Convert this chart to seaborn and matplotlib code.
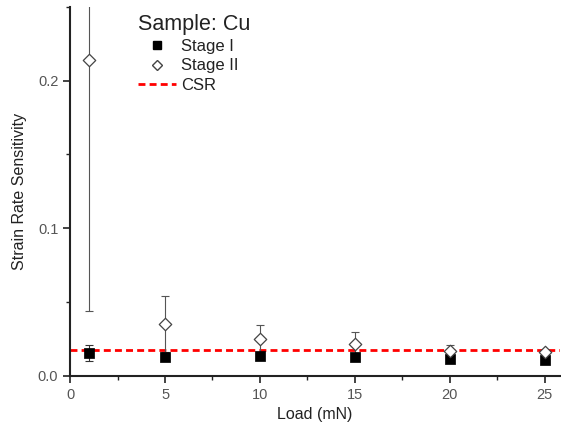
import matplotlib
matplotlib.use("Agg")
import matplotlib.pyplot as plt
import pandas as pd
import seaborn as sns
from matplotlib.lines import Line2D
from matplotlib.ticker import MultipleLocator, FormatStrFormatter

load = [1, 5, 10, 15, 20, 25]
stage1 = [0.0156, 0.0129, 0.0134, 0.0128, 0.0115, 0.0110]
stage1_err = [0.0055, 0.0, 0.0, 0.0015, 0.0, 0.0]
stage2 = [0.214, 0.035, 0.025, 0.0215, 0.0170, 0.0163]
stage2_err = [0.170, 0.019, 0.0095, 0.0082, 0.0040, 0.0015]
csr = 0.0178

sns.set_theme(style="ticks")
plt.rcParams["font.family"] = ["Liberation Sans", "DejaVu Sans"]

df = pd.DataFrame({"load": load * 2,
                   "srs": stage1 + stage2,
                   "stage": ["Stage I"] * len(load) + ["Stage II"] * len(load)})

fig = plt.figure(figsize=(5.61, 4.32), dpi=100)
ax = fig.add_axes([0.125, 0.13, 0.873, 0.854])

ax.axhline(csr, color="red", linestyle=(0, (2.5, 1.5)), linewidth=2, zorder=1)

ax.errorbar(load, stage2, yerr=stage2_err, fmt="none", ecolor="#555555",
            elinewidth=0.8, capsize=3, capthick=0.8, zorder=2)
ax.errorbar(load, stage1, yerr=stage1_err, fmt="none", ecolor="#333333",
            elinewidth=0.8, capsize=3, capthick=0.8, zorder=2)

sns.scatterplot(data=df[df["stage"] == "Stage I"], x="load", y="srs", marker="s",
                s=42, color="black", edgecolor="black", ax=ax, zorder=3)
sns.scatterplot(data=df[df["stage"] == "Stage II"], x="load", y="srs", marker="D",
                s=40, facecolor="white", edgecolor="#444444", linewidth=0.9,
                ax=ax, zorder=4)

ax.set_xlim(0, 25.8)
ax.set_ylim(0, 0.25)
ax.xaxis.set_major_locator(MultipleLocator(5))
ax.xaxis.set_minor_locator(MultipleLocator(2.5))
ax.yaxis.set_major_locator(MultipleLocator(0.1))
ax.yaxis.set_minor_locator(MultipleLocator(0.05))
ax.yaxis.set_major_formatter(FormatStrFormatter("%.1f"))
sns.despine(ax=ax)
for s in ["left", "bottom"]:
    ax.spines[s].set_linewidth(1.5)
    ax.spines[s].set_color("#222222")
ax.tick_params(which="major", direction="out", length=5, width=1.2, labelsize=10.5,
               labelcolor="#555555", color="#222222")
ax.tick_params(which="minor", direction="out", length=3, width=1, color="#222222")
ax.set_xlabel("Load (mN)", fontsize=11.5, color="#222222")
ax.set_ylabel("Strain Rate Sensitivity", fontsize=11.5, color="#222222", labelpad=8)

handles = [
    Line2D([], [], marker="s", color="black", linestyle="none", markersize=6),
    Line2D([], [], marker="D", markerfacecolor="white", markeredgecolor="#444444",
           linestyle="none", markersize=5.5),
    Line2D([], [], color="red", linestyle=(0, (2.5, 1.5)), linewidth=2),
]
leg = ax.legend(handles, ["Stage I", "Stage II", "CSR"], title="Sample: Cu",
                loc="upper left", bbox_to_anchor=(0.115, 1.012), frameon=False,
                fontsize=12, title_fontsize=15.5, handlelength=2.3,
                handletextpad=0.3, labelspacing=0.25, borderaxespad=0.3)
leg._legend_box.align = "left"
for t in leg.get_texts():
    t.set_color("#222222")
leg.get_title().set_color("#222222")

fig.savefig("out.png", dpi=100)
